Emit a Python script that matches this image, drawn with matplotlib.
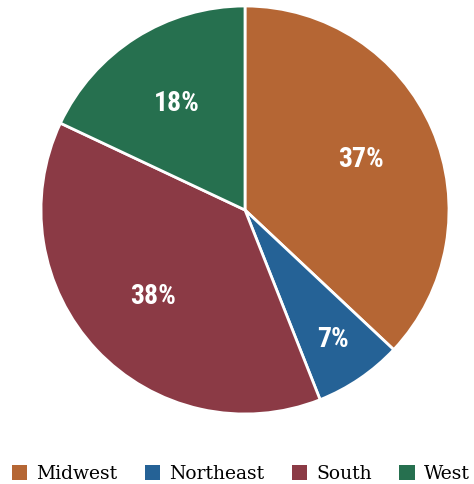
import numpy as np
import matplotlib.pyplot as plt
from matplotlib import font_manager
from matplotlib.patches import Patch

regions = ["Midwest", "Northeast", "South", "West"]
shares = [37, 7, 38, 18]
colors = ["#B56634", "#256296", "#8B3A45", "#26704F"]

installed = {f.name for f in font_manager.fontManager.ttflist}
pct_font = "Roboto Condensed" if "Roboto Condensed" in installed else "Roboto"
pct_size = 20 if pct_font == "Roboto Condensed" else 18.5

fig = plt.figure(figsize=(4.74, 4.84), dpi=100)
ax = fig.add_axes([245 / 474 - 204 / 474, (484 - 414) / 484, 408 / 474, 408 / 484])

wedges, _ = ax.pie(shares, colors=colors, startangle=90, counterclock=False,
                   wedgeprops=dict(edgecolor="white", linewidth=2))
ax.set_xlim(-1, 1)
ax.set_ylim(-1, 1)
ax.set_aspect("equal")

# percent labels, pushed further out on thin slices
for w, v in zip(wedges, shares):
    mid = np.deg2rad((w.theta1 + w.theta2) / 2)
    r = 0.62 if v > 10 else 0.77
    ax.text(r * np.cos(mid), r * np.sin(mid), f"{v}%", ha="center", va="center",
            color="white", fontsize=pct_size, fontweight="bold", family=pct_font)

handles = [Patch(facecolor=c, edgecolor="none") for c in colors]
fig.legend(handles, regions, loc="center", bbox_to_anchor=(0.508, 10 / 484),
           ncol=4, frameon=False, prop=dict(family="DejaVu Serif", size=13.5),
           handlelength=0.82, handleheight=0.82, handletextpad=0.5, columnspacing=1.45)

fig.savefig("out.png", dpi=100)
